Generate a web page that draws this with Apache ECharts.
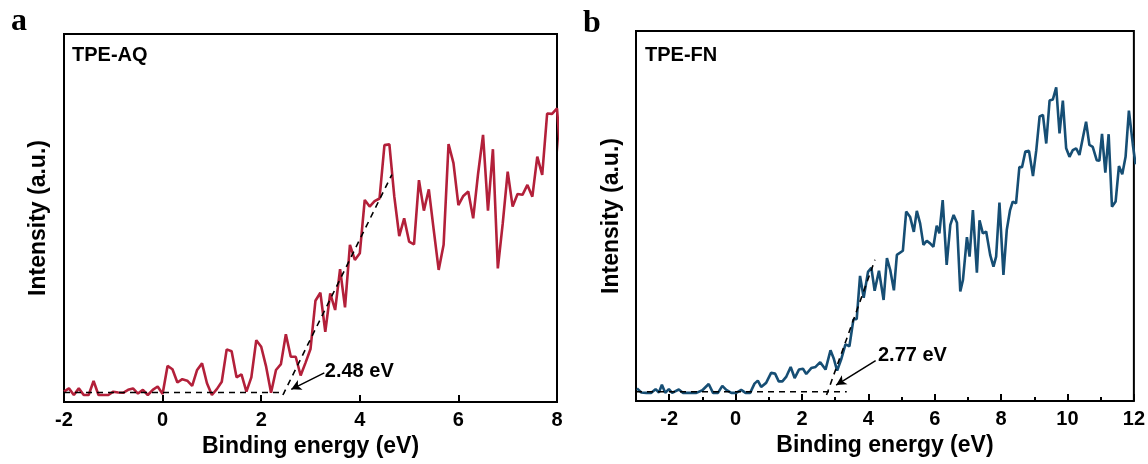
<!DOCTYPE html>
<html><head><meta charset="utf-8">
<script src="https://cdn.jsdelivr.net/npm/echarts@6/dist/echarts.min.js"></script>
<style>html,body{margin:0;padding:0;background:#fff}#c{width:1148px;height:464px}</style>
</head><body><div id="c"></div>
<script>
// ---- text ----
const panelLetters = ['a', 'b'];
const sampleNames = ['TPE-AQ', 'TPE-FN'];
const xTitle = 'Binding energy (eV)';
const yTitle = 'Intensity (a.u.)';
const aqGapLabel = '2.48 eV';
const fnGapLabel = '2.77 eV';

// ---- ticks ----
const aqTicks = [-2, 0, 2, 4, 6, 8];
const fnTicks = [-2, 0, 2, 4, 6, 8, 10, 12];
const fnMinorTicks = [-3, -1, 1, 3, 5, 7, 9, 11];

// ---- series: TPE-AQ [binding energy, intensity a.u.] ----
const aqData = [
  [-2.0,2.8],[-1.9,3.7],[-1.8,1.9],[-1.7,3.7],[-1.6,1.9],[-1.5,1.9],[-1.4,5.7],[-1.3,1.9],[-1.2,1.9],[-1.1,1.9],
  [-1.0,2.8],[-0.9,2.6],[-0.8,2.5],[-0.7,3.3],[-0.6,3.7],[-0.5,2.3],[-0.4,3.3],[-0.3,1.9],[-0.2,3.3],[-0.1,4.2],
  [0.0,2.2],[0.1,9.8],[0.2,8.9],[0.3,5.3],[0.4,6.2],[0.5,5.8],[0.6,4.4],[0.7,8.7],[0.8,10.5],[0.9,5.1],
  [1.0,1.9],[1.1,3.5],[1.2,5.5],[1.3,14.3],[1.4,13.8],[1.5,6.7],[1.6,7.5],[1.7,2.8],[1.8,6.7],[1.9,16.8],
  [2.0,15.0],[2.1,9.6],[2.2,2.5],[2.3,8.7],[2.4,10.3],[2.5,18.4],[2.6,12.3],[2.7,12.3],[2.8,7.2],[2.9,10.7],
  [3.0,14.4],[3.1,27.5],[3.2,29.7],[3.3,19.1],[3.4,29.5],[3.5,25.0],[3.6,36.1],[3.7,25.7],[3.8,42.7],[3.9,38.6],
  [4.0,40.4],[4.1,54.9],[4.2,53.1],[4.3,54.6],[4.4,55.3],[4.5,69.8],[4.6,70.0],[4.7,55.8],[4.8,45.1],[4.9,49.9],
  [5.0,43.6],[5.1,42.8],[5.2,60.3],[5.3,52.0],[5.4,57.8],[5.5,46.7],[5.6,35.9],[5.7,42.7],[5.8,70.1],[5.9,64.9],
  [6.0,53.5],[6.1,56.0],[6.2,57.2],[6.3,49.9],[6.4,62.1],[6.5,72.6],[6.6,52.0],[6.7,68.7],[6.8,36.3],[6.9,48.6],
  [7.0,62.6],[7.1,53.1],[7.2,56.5],[7.3,56.3],[7.4,59.0],[7.5,55.8],[7.6,66.7],[7.7,61.7],[7.8,78.4],[7.9,78.3],
  [8.0,79.8],[8.1,62.0]
];

// ---- series: TPE-FN [binding energy, intensity a.u.] ----
const fnData = [
  [-2.97,3.4],[-2.84,2.3],[-2.69,2.2],[-2.54,2.2],[-2.41,3.2],[-2.31,2.3],[-2.22,4.4],[-2.12,2.2],[-2.01,3.2],[-1.91,2.2],
  [-1.71,3.1],[-1.59,2.2],[-1.39,2.2],[-1.18,2.2],[-1.0,2.9],[-0.81,4.6],[-0.68,2.2],[-0.53,2.2],[-0.40,4.1],[-0.28,3.0],
  [-0.13,2.2],[0.02,2.2],[0.17,3.0],[0.30,2.2],[0.44,2.2],[0.57,4.7],[0.67,5.5],[0.77,3.8],[0.92,4.9],[1.07,7.6],
  [1.19,7.4],[1.30,5.3],[1.41,5.3],[1.53,6.6],[1.66,9.2],[1.78,6.2],[1.91,8.5],[2.03,8.7],[2.13,7.3],[2.28,8.9],
  [2.41,9.2],[2.55,10.5],[2.71,8.5],[2.86,13.7],[2.96,11.4],[3.06,8.2],[3.18,11.2],[3.31,15.3],[3.43,14.8],[3.55,22.0],
  [3.65,22.2],[3.75,33.8],[3.86,27.9],[3.99,34.9],[4.09,36.0],[4.19,29.8],[4.32,35.2],[4.46,27.3],[4.56,38.6],[4.66,35.4],
  [4.77,29.9],[4.86,39.5],[5.04,40.6],[5.14,51.2],[5.26,49.7],[5.37,45.7],[5.46,51.4],[5.56,48.0],[5.66,42.2],[5.76,43.3],
  [5.86,42.6],[5.96,41.7],[6.06,47.4],[6.14,45.3],[6.24,54.3],[6.36,36.8],[6.47,47.6],[6.57,50.3],[6.67,48.2],[6.77,29.6],
  [6.85,32.7],[6.97,44.3],[7.05,39.0],[7.15,51.6],[7.27,34.7],[7.35,48.8],[7.45,45.3],[7.55,45.8],[7.67,39.5],[7.77,36.3],
  [7.85,39.0],[7.95,53.6],[8.07,34.1],[8.17,46.2],[8.27,51.6],[8.35,53.9],[8.45,53.4],[8.55,63.2],[8.63,63.2],[8.73,67.4],
  [8.84,67.6],[8.96,60.8],[9.06,67.8],[9.16,76.9],[9.26,77.3],[9.36,69.6],[9.46,81.2],[9.56,81.5],[9.66,84.8],[9.76,72.3],
  [9.86,81.2],[9.96,68.3],[10.06,66.0],[10.16,67.8],[10.26,68.3],[10.36,66.5],[10.46,71.0],[10.56,75.5],[10.66,69.2],[10.76,68.7],
  [10.88,65.1],[10.96,64.9],[11.04,72.2],[11.14,61.7],[11.24,72.1],[11.34,52.5],[11.45,53.9],[11.55,63.5],[11.65,61.3],[11.75,66.0],
  [11.85,78.5],[11.97,69.2],[12.05,64.0]
];

// ---- onset construction lines & annotations ----
const aqBaseline = [[-2.0, 2.6], [2.48, 2.6]];
const aqTangent = [[2.44, 1.9], [4.65, 61.8]];
const fnBaseline = [[-3.0, 2.5], [3.35, 2.5]];
const fnTangent = [[2.74, 1.6], [4.2, 38.2]];
const aqArrow = [[3.28, 7.9], [2.61, 3.45]];
const fnArrow = [[4.22, 10.9], [3.03, 4.3]];
const aqLabelPos = [3.29, 8.2];
const fnLabelPos = [4.29, 12.4];

const FONT = 'Arial, "Liberation Sans", sans-serif';
const SERIF = '"Times New Roman", "Liberation Serif", serif';
const RED = '#B3203A';
const BLUE = '#164E74';

function xAxisFor(gi, min, max, ticks) {
  return {
    type: 'value', gridIndex: gi, min: min, max: max, position: 'bottom',
    axisLine: { show: false },
    splitLine: { show: false },
    axisTick: { show: true, inside: true, length: 7, customValues: ticks, lineStyle: { color: '#000', width: 2 } },
    axisLabel: { show: true, customValues: ticks, margin: 8, color: '#000', fontSize: 20, fontWeight: 'bold', fontFamily: FONT },
    name: xTitle, nameLocation: 'middle', nameGap: 32,
    nameTextStyle: { color: '#000', fontSize: 23, fontWeight: 'bold', fontFamily: FONT }
  };
}
function yAxisFor(gi, gap) {
  return {
    type: 'value', gridIndex: gi, min: 0, max: 100,
    axisLine: { show: false }, axisTick: { show: false }, axisLabel: { show: false }, splitLine: { show: false },
    name: yTitle, nameLocation: 'middle', nameRotate: 90, nameGap: gap,
    nameTextStyle: { color: '#000', fontSize: 23, fontWeight: 'bold', fontFamily: FONT }
  };
}
function dashed(xi, data) {
  return {
    type: 'line', xAxisIndex: xi, yAxisIndex: xi < 1 ? 0 : 1, data: data, symbol: 'none', silent: true,
    lineStyle: { color: '#000', width: 1.6, type: [6, 5] }, z: 5, animation: false
  };
}
function annotation(xi, yi, pos, text, arrow) {
  return {
    type: 'scatter', xAxisIndex: xi, yAxisIndex: yi, data: [pos], symbolSize: 0, silent: true, animation: false,
    itemStyle: { color: 'rgba(0,0,0,0)', opacity: 1 },
    label: { show: true, position: 'right', distance: 0, formatter: text, color: '#000', opacity: 1, fontSize: 20, fontWeight: 'bold', fontFamily: FONT },
    markLine: {
      silent: true, animation: false, symbol: ['none', 'arrow'], symbolSize: [8, 10],
      lineStyle: { color: '#000', width: 1.5, type: 'solid', opacity: 1 }, label: { show: false },
      data: [[{ coord: arrow[0] }, { coord: arrow[1] }]]
    }
  };
}

const chart = echarts.init(document.getElementById('c'), null, { renderer: 'canvas' });
chart.setOption({
  animation: false,
  backgroundColor: '#fff',
  grid: [
    { left: 64, top: 34, width: 493, height: 368, show: true, borderColor: '#000', borderWidth: 2, backgroundColor: 'transparent' },
    { left: 636, top: 31, width: 498, height: 370, show: true, borderColor: '#000', borderWidth: 2, backgroundColor: 'transparent' }
  ],
  xAxis: [
    xAxisFor(0, -2, 8, aqTicks),
    xAxisFor(1, -3, 12, fnTicks),
    { type: 'value', gridIndex: 1, min: -3, max: 12, position: 'bottom',
      axisLine: { show: false }, splitLine: { show: false }, axisLabel: { show: false },
      axisTick: { show: true, inside: true, length: 4, customValues: fnMinorTicks, lineStyle: { color: '#000', width: 2 } } }
  ],
  yAxis: [yAxisFor(0, 14), yAxisFor(1, 13)],
  series: [
    { type: 'line', xAxisIndex: 0, yAxisIndex: 0, data: aqData, symbol: 'none', clip: true,
      lineStyle: { color: RED, width: 2.6 }, z: 3 },
    { type: 'line', xAxisIndex: 1, yAxisIndex: 1, data: fnData, symbol: 'none', clip: true,
      lineStyle: { color: BLUE, width: 2.6 }, z: 3 },
    dashed(0, aqBaseline), dashed(0, aqTangent),
    dashed(1, fnBaseline), dashed(1, fnTangent),
    annotation(0, 0, aqLabelPos, aqGapLabel, aqArrow),
    annotation(1, 1, fnLabelPos, fnGapLabel, fnArrow)
  ],
  graphic: [
    { type: 'text', x: 11, y: 22, style: { text: panelLetters[0], fill: '#000', font: 'bold 32px ' + SERIF, align: 'left', verticalAlign: 'middle' } },
    { type: 'text', x: 583, y: 24, style: { text: panelLetters[1], fill: '#000', font: 'bold 32px ' + SERIF, align: 'left', verticalAlign: 'middle' } },
    { type: 'text', x: 72, y: 55, style: { text: sampleNames[0], fill: '#000', font: 'bold 20px ' + FONT, align: 'left', verticalAlign: 'middle' } },
    { type: 'text', x: 645, y: 55, style: { text: sampleNames[1], fill: '#000', font: 'bold 20px ' + FONT, align: 'left', verticalAlign: 'middle' } }
  ]
});
</script>
</body></html>
